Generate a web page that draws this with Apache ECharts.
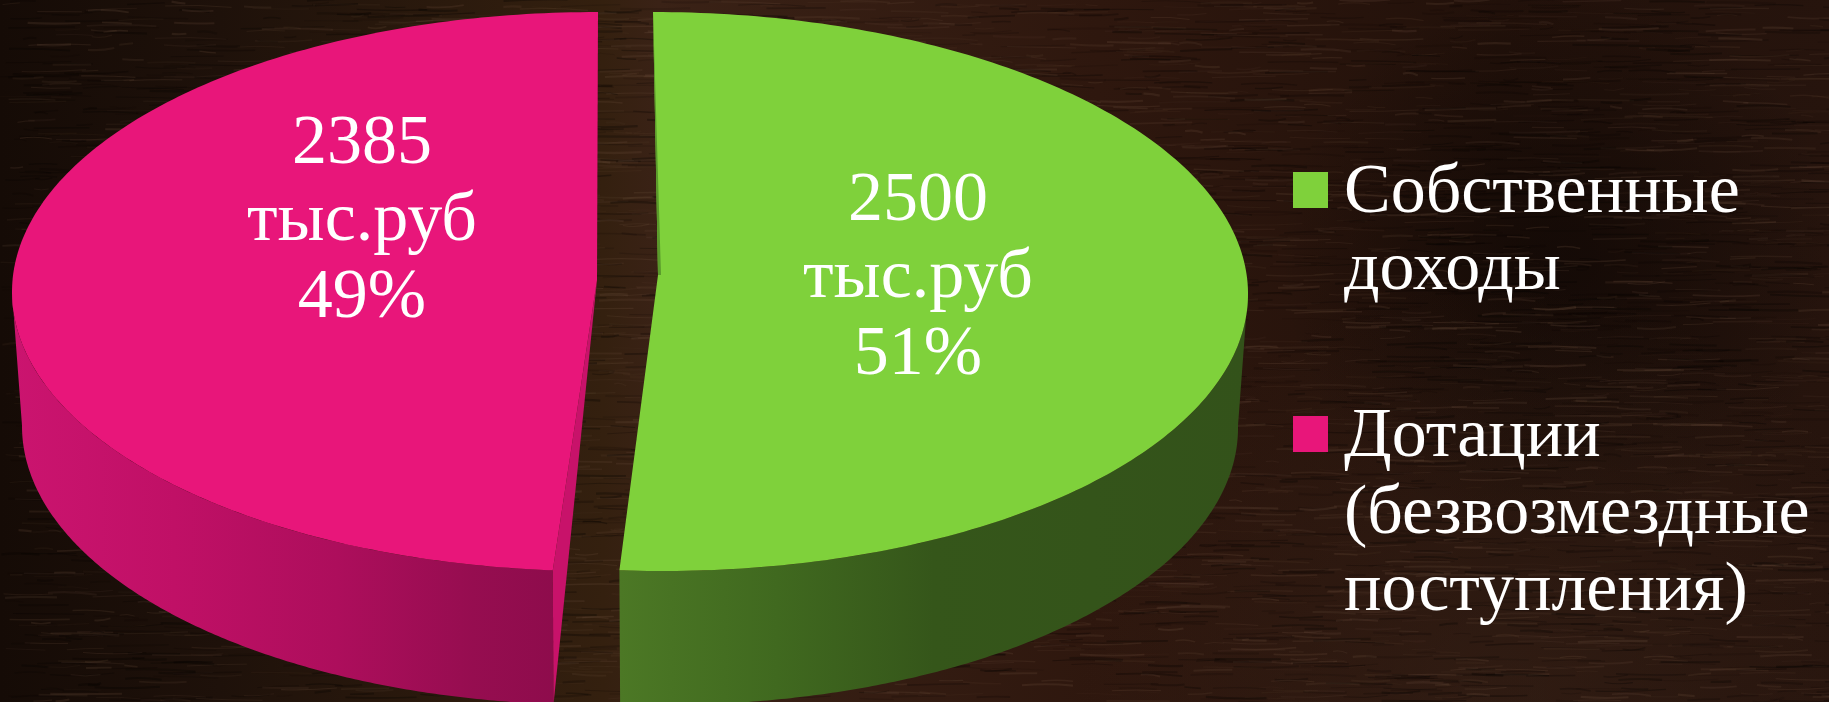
<!DOCTYPE html>
<html><head><meta charset="utf-8">
<script src="https://cdn.jsdelivr.net/npm/echarts@6/dist/echarts.min.js"></script>
<style>html,body{margin:0;padding:0;background:#1c100a}#c{width:1829px;height:702px}</style>
</head><body><div id="c"></div>
<script>
var names = ['Собственные\nдоходы', 'Дотации\n(безвозмездные\nпоступления)'];
var values = [2500, 2385];
var unit = 'тыс.руб';
var topColors = ['#7fd13b', '#e8167a'];
var FONT = '"Liberation Serif", serif';

var total = values[0] + values[1];
var sweep = values[0] / total * 2 * Math.PI;   // green runs clockwise from 12 o'clock, pink anticlockwise to the same bearing

function stops(a) { return a.map(function (s) { return {offset: s[0], color: s[1]}; }); }

var geo = [
  {cx: 658, apexX: 658, apexY: 275, rx: 590, dir: 1, skew: 5, start: 0, end: sweep,
   wallFrom: Math.PI / 2, labelX: 918, labelY: 279,
   wall: stops([[0, '#4c7825'], [0.25, '#40691f'], [0.5, '#35561a'], [1, '#33521a']]), face: null, sliver: '#5a9a2b'},
  {cx: 597, apexX: 597, apexY: 280, rx: 585, dir: -1, skew: -1, start: 0, end: 2 * Math.PI - sweep,
   wallFrom: Math.PI / 2, labelX: 362, labelY: 222,
   wall: stops([[0, '#cb146f'], [0.3, '#c01066'], [0.6, '#ad0e5c'], [0.85, '#960d50'], [1, '#8e0c4c']]), face: '#c8126a', sliver: null}
];
var CY = 291.5, RY = 279.5, H = 134, SHRINK = 10;

function rim(g, th, cy, rx) {
  var c = Math.cos(th);
  return [g.cx + g.dir * rx * Math.sin(th) - g.skew * c, cy - RY * c];
}
function arc(g, a, b, cy, rx) {
  var pts = [], n = 200;
  for (var i = 0; i <= n; i++) pts.push(rim(g, a + (b - a) * i / n, cy, rx));
  return pts;
}

function renderSlice(params, api) {
  var i = params.dataIndex, g = geo[i];
  var value = api.value(0);
  var pct = Math.round(value / total * 100);
  var topRim = arc(g, g.start, g.end, CY, g.rx);
  var wallTop = arc(g, g.wallFrom, g.end, CY, g.rx);
  var wallBot = arc(g, g.end, g.wallFrom, CY + H, g.rx - SHRINK);
  var kids = [{
    type: 'polygon', shape: {points: wallTop.concat(wallBot)},
    style: {fill: new echarts.graphic.LinearGradient(0, 0, 1, 0, g.wall)}
  }];
  var endTop = rim(g, g.end, CY, g.rx), endBot = rim(g, g.end, CY + H, g.rx - SHRINK);
  if (g.face) kids.push({type: 'polygon', shape: {points: [[g.apexX, g.apexY], endTop, endBot]}, style: {fill: g.face}});
  kids.push({type: 'polygon', shape: {points: [[g.apexX, g.apexY]].concat(topRim)}, style: {fill: topColors[i]}});
  if (g.sliver) {
    var st = rim(g, g.start, CY, g.rx);
    kids.push({type: 'polygon', shape: {points: [st, [g.apexX + 3, g.apexY], [g.apexX, g.apexY]]}, style: {fill: g.sliver}});
  }
  kids.push({type: 'text', style: {
    text: value + '\n' + unit + '\n' + pct + '%',
    x: g.labelX, y: g.labelY, align: 'center', verticalAlign: 'middle',
    font: '70px ' + FONT, lineHeight: 77, fill: '#fff'
  }, z2: 10});
  return {type: 'group', children: kids};
}

// wood backdrop, deterministic
function wood() {
  var cv = document.createElement('canvas'); cv.width = 1829; cv.height = 702;
  var c = cv.getContext('2d');
  var g = c.createLinearGradient(0, 0, 1829, 0);
  g.addColorStop(0, '#150b06'); g.addColorStop(0.12, '#1e110a'); g.addColorStop(0.33, '#34200f');
  g.addColorStop(0.36, '#3a2216'); g.addColorStop(0.6, '#2e170e'); g.addColorStop(0.82, '#22110a'); g.addColorStop(1, '#26140d');
  c.fillStyle = g; c.fillRect(0, 0, 1829, 702);
  var r = c.createRadialGradient(1560, 260, 30, 1560, 260, 280);
  r.addColorStop(0, 'rgba(10,5,3,0.55)'); r.addColorStop(1, 'rgba(10,5,3,0)');
  c.fillStyle = r; c.fillRect(0, 0, 1829, 702);
  var b = c.createRadialGradient(1500, 702, 40, 1500, 702, 420);
  b.addColorStop(0, 'rgba(70,45,32,0.35)'); b.addColorStop(1, 'rgba(70,45,32,0)');
  c.fillStyle = b; c.fillRect(0, 0, 1829, 702);
  var s = 12345;
  function rnd() { s = (s * 1664525 + 1013904223) % 4294967296; return s / 4294967296; }
  for (var i = 0; i < 6000; i++) {
    var x = rnd() * 1829, y = rnd() * 702, l = 12 + rnd() * 60;
    var light = rnd() > 0.5;
    c.strokeStyle = light ? 'rgba(120,90,70,' + (0.05 + rnd() * 0.16) + ')' : 'rgba(5,2,1,' + (0.1 + rnd() * 0.22) + ')';
    c.lineWidth = 0.7 + rnd() * 1.6;
    c.beginPath(); c.moveTo(x, y);
    c.quadraticCurveTo(x + l / 2, y + (rnd() - 0.5) * 5, x + l, y + (rnd() - 0.5) * 4); c.stroke();
  }
  return cv;
}

// legend geometry
var legendX = 1293, legendW = 35, legendH = 36, legendTops = [172, 416], legendTextX = 1344;
var legendTextTops = [155, 399];
var graphicEls = [];
names.forEach(function (n, i) {
  graphicEls.push({type: 'rect', left: legendX, top: legendTops[i], shape: {width: legendW, height: legendH}, style: {fill: topColors[i]}});
  graphicEls.push({type: 'text', left: legendTextX, top: legendTextTops[i], style: {text: n, font: '70px ' + FONT, lineHeight: 77, fill: '#fff'}});
});

var chart = echarts.init(document.getElementById('c'), null, {renderer: 'canvas'});
chart.setOption({
  animation: false,
  backgroundColor: {image: wood(), repeat: 'no-repeat'},
  graphic: graphicEls,
  series: [{
    type: 'custom', coordinateSystem: 'none', silent: true, clip: false,
    data: values.map(function (v, i) { return {value: [v], name: names[i]}; }),
    renderItem: renderSlice
  }]
});
</script></body></html>
